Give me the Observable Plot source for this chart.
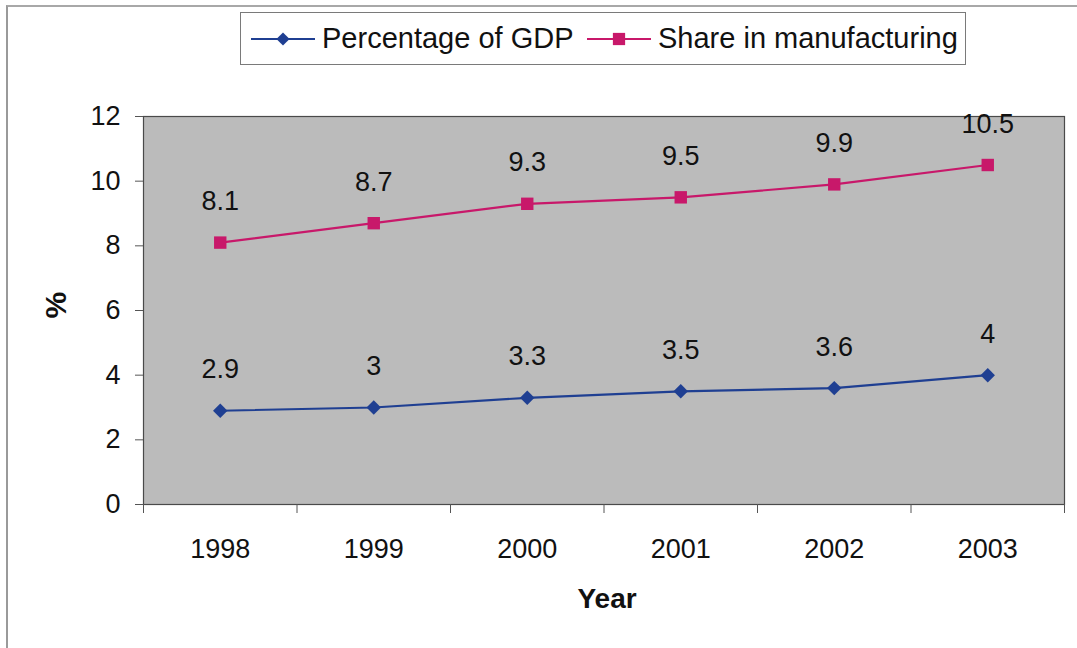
<!DOCTYPE html>
<html>
<head>
<meta charset="utf-8">
<script src="https://cdn.jsdelivr.net/npm/d3@7"></script>
<script src="https://cdn.jsdelivr.net/npm/@observablehq/plot@0.6"></script>
<style>
  html, body { margin: 0; padding: 0; background: #fff; }
  #wrap { position: relative; width: 1077px; height: 648px; overflow: hidden; font-family: "Liberation Sans", Arial, sans-serif; }
  #border { position: absolute; left: 6px; top: 5px; width: 1200px; height: 800px; border-left: 2px solid #9a9a9a; border-top: 2px solid #a8a8a8; }
  #chart { position: absolute; left: 0; top: 0; }
  #legend { position: absolute; left: 240px; top: 12px; width: 724px; height: 51px; border: 1px solid #7a7a7a; background: #fff; }
  .item { position: absolute; top: 0; height: 51px; display: flex; align-items: center; font-size: 29px; color: #111; white-space: nowrap; }
  .item svg { margin-right: 5px; }
</style>
</head>
<body>
<div id="wrap">
  <div id="border"></div>
  <div id="chart"></div>
  <div id="legend"></div>
</div>
<script>
const years = [1998, 1999, 2000, 2001, 2002, 2003];
const gdpShare = [2.9, 3, 3.3, 3.5, 3.6, 4];
const manufacturingShare = [8.1, 8.7, 9.3, 9.5, 9.9, 10.5];
const seriesNames = ["Percentage of GDP", "Share in manufacturing"];
const seriesColors = ["#1f3f92", "#c8186a"];
const seriesSymbols = ["diamond2", "square"];
const yTicks = [0, 2, 4, 6, 8, 10, 12];

const data = [];
years.forEach((yr, i) => {
  data.push({year: yr, value: gdpShare[i], series: seriesNames[0]});
});
years.forEach((yr, i) => {
  data.push({year: yr, value: manufacturingShare[i], series: seriesNames[1]});
});
const gdpData = data.filter(d => d.series === seriesNames[0]);
const mfgData = data.filter(d => d.series === seriesNames[1]);
const boundaries = years.map(y => y - 0.5).concat([years[years.length - 1] + 0.5]);

const font = "Liberation Sans, Arial, sans-serif";

const chart = Plot.plot({
  width: 1077,
  height: 648,
  marginLeft: 143,
  marginRight: 13,
  marginTop: 116,
  marginBottom: 144,
  style: {fontFamily: font, fontSize: "27px", color: "#111", background: "transparent"},
  x: {domain: [years[0] - 0.5, years[years.length - 1] + 0.5]},
  y: {domain: [0, 12]},
  color: {domain: seriesNames, range: seriesColors},
  marks: [
    Plot.frame({fill: "#bbbbbb", stroke: "#4a4a4a", strokeWidth: 1.2}),
    Plot.axisY({ticks: yTicks, tickSize: 8, tickPadding: 15, label: null, fontSize: 27, stroke: "#555"}),
    Plot.axisX({ticks: years, tickSize: 0, tickPadding: 34, tickFormat: d => String(d), label: null, fontSize: 27}),
    Plot.axisX({ticks: boundaries, tickSize: 9, tickFormat: () => "", label: null, stroke: "#555"}),
    Plot.line(data, {x: "year", y: "value", z: "series", stroke: "series", strokeWidth: 2.2}),
    Plot.dot(gdpData, {x: "year", y: "value", fill: seriesColors[0], symbol: seriesSymbols[0], r: 6.5, stroke: "none"}),
    Plot.dot(mfgData, {x: "year", y: "value", fill: seriesColors[1], symbol: seriesSymbols[1], r: 7, stroke: "none"}),
    Plot.text(data, {x: "year", y: "value", text: d => String(d.value), dy: -41, fontSize: 27, fill: "#111"}),
    Plot.text(["Year"], {frameAnchor: "bottom", dy: 103, dx: 3, fontSize: 28, fontWeight: "bold", fill: "#111"}),
    Plot.text(["%"], {frameAnchor: "left", dx: -87, dy: 8, rotate: -90, fontSize: 30, fontWeight: "bold", fill: "#111"})
  ]
});
document.getElementById("chart").appendChild(chart);

// Legend
const legend = d3.select("#legend");
const legendLefts = [10, 346];
seriesNames.forEach((name, i) => {
  const item = legend.append("div").attr("class", "item").style("left", legendLefts[i] + "px");
  const svg = item.append("svg").attr("width", 66).attr("height", 20);
  svg.append("line").attr("x1", 0).attr("x2", 64).attr("y1", 10).attr("y2", 10)
    .attr("stroke", seriesColors[i]).attr("stroke-width", 2.2);
  const sym = seriesSymbols[i] === "square" ? d3.symbolSquare : d3.symbolDiamond2;
  const size = seriesSymbols[i] === "square" ? 150 : 110;
  svg.append("path").attr("d", d3.symbol(sym, size)()).attr("transform", "translate(32,10)")
    .attr("fill", seriesColors[i]);
  item.append("span").text(name);
});
</script>
</body>
</html>
